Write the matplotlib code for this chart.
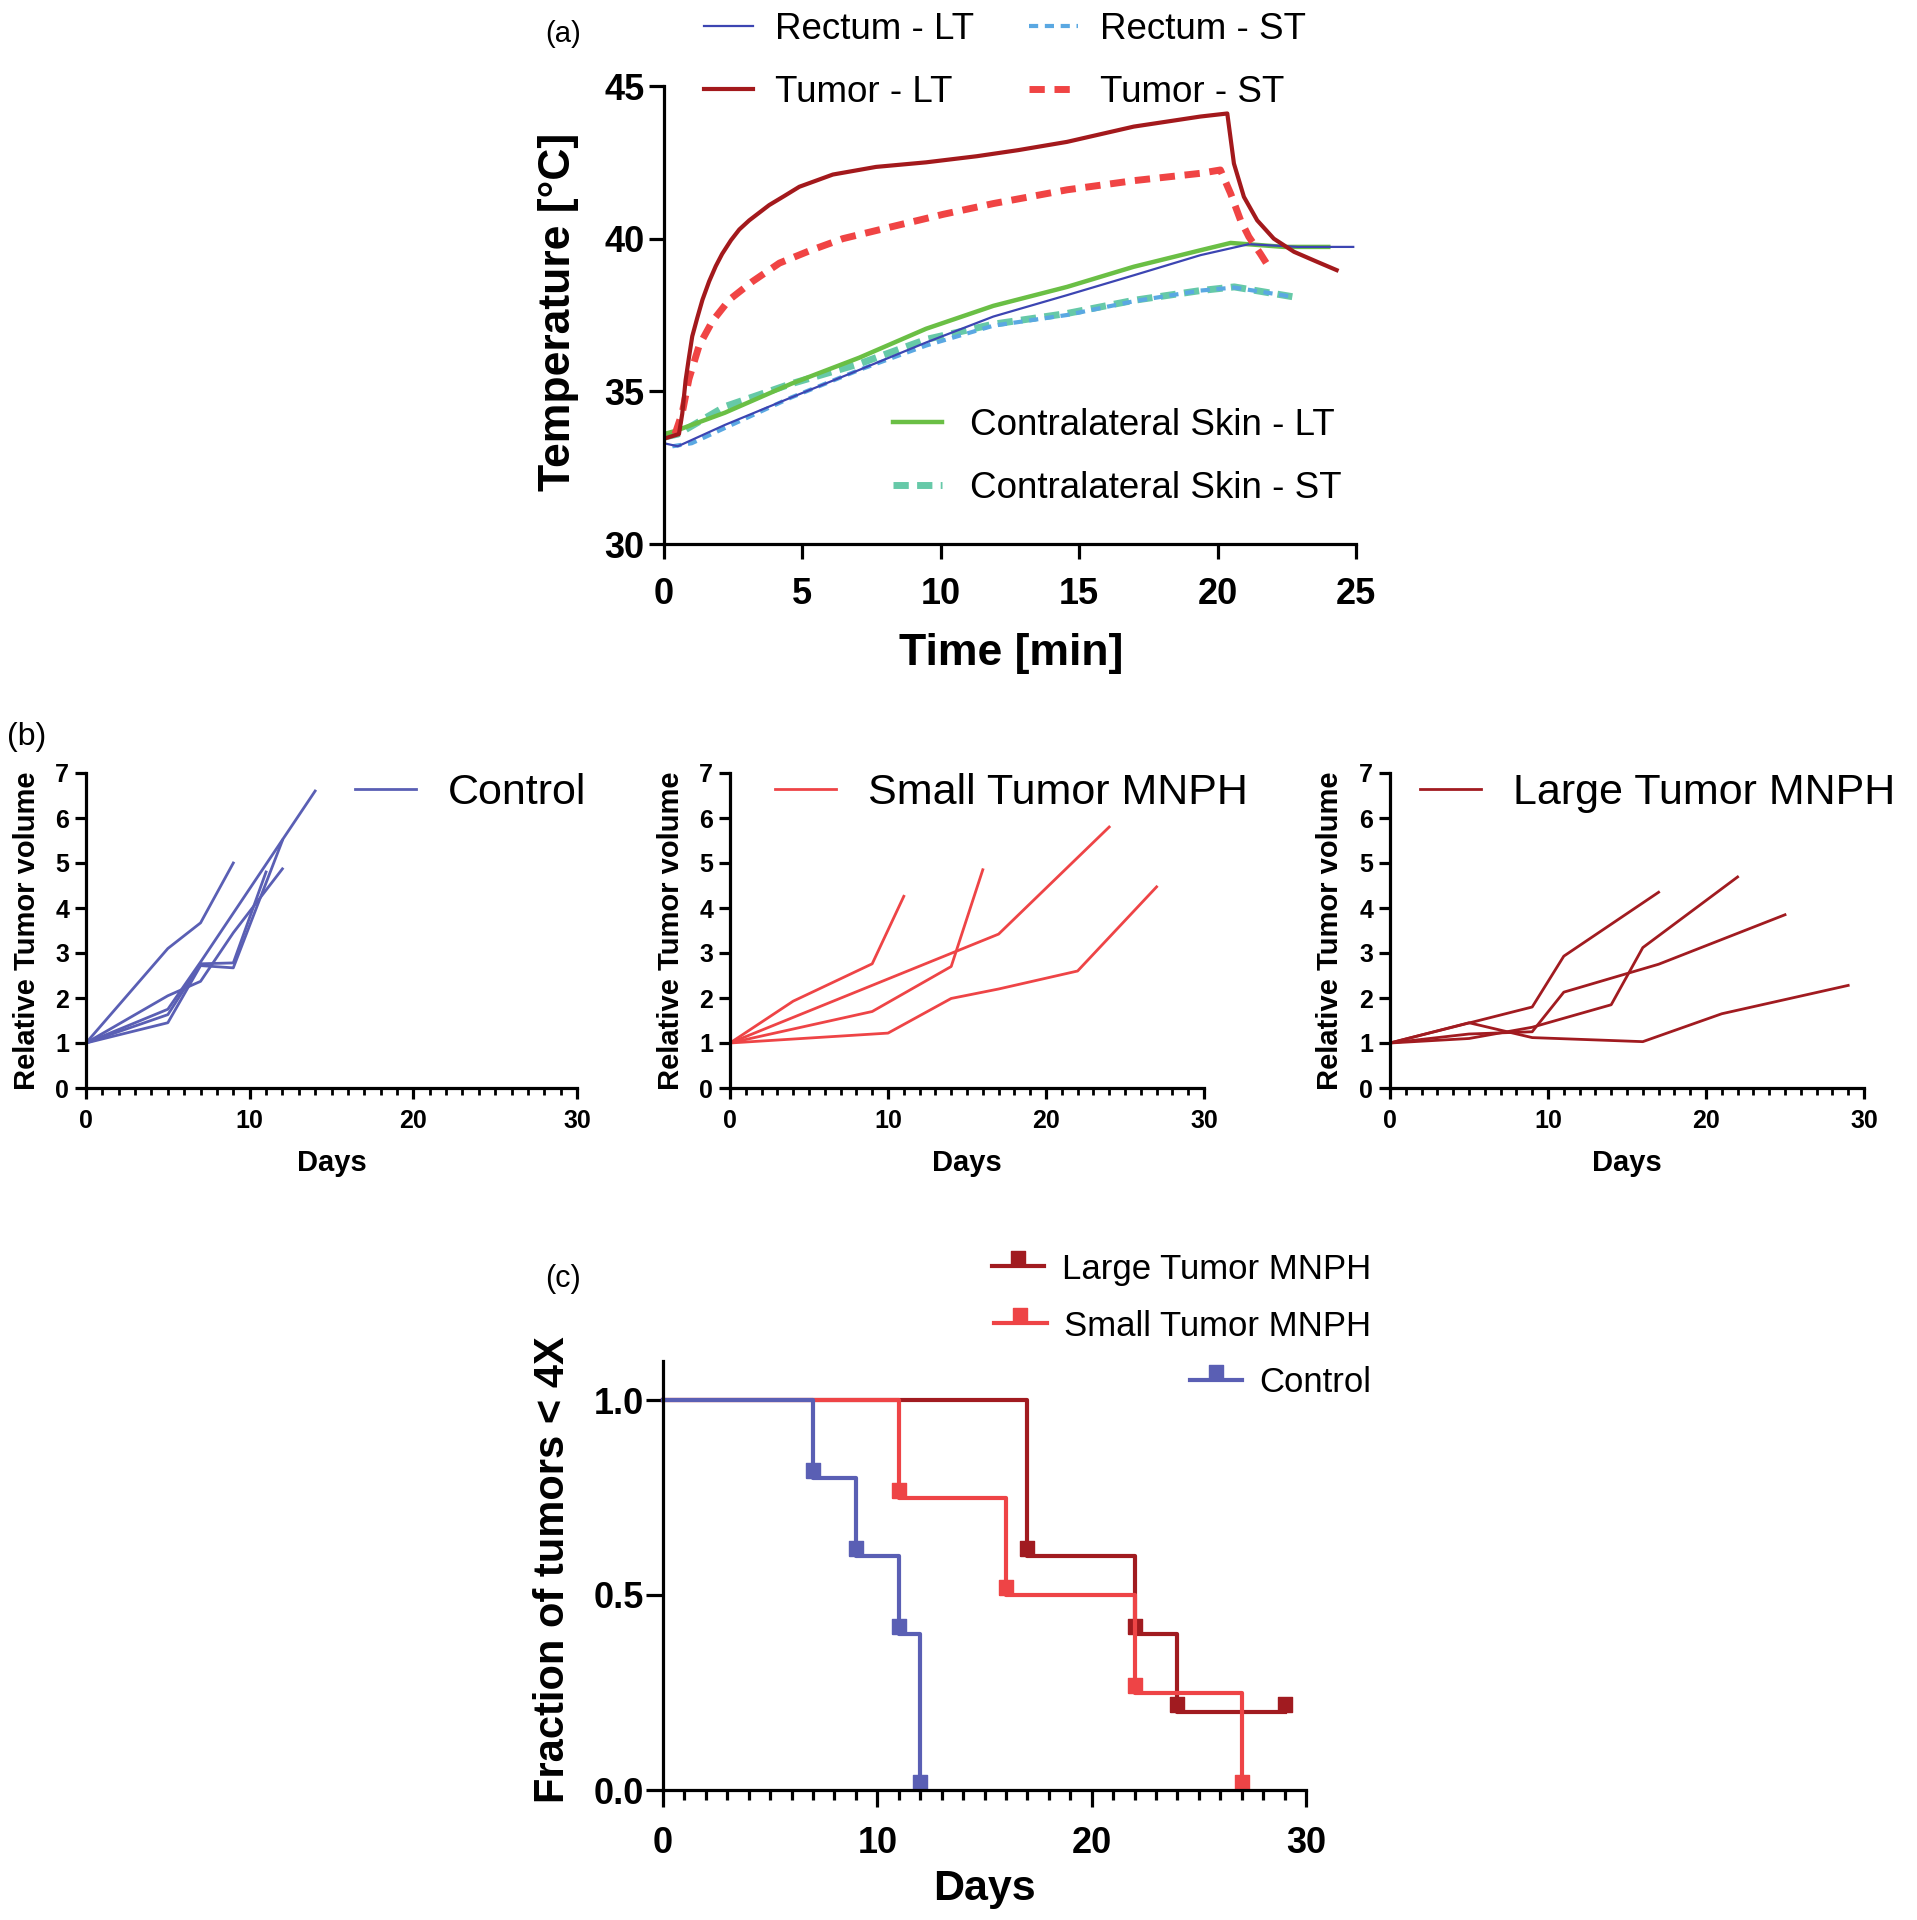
import matplotlib
matplotlib.use('Agg')
import matplotlib.pyplot as plt
from matplotlib.ticker import MultipleLocator, FormatStrFormatter

plt.rcParams['font.family'] = ['Liberation Sans', 'DejaVu Sans']

# ---------------- (a) temperature traces ----------------
tumor_lt_t = [0, 0.54, 0.66, 0.78, 0.9, 1.02, 1.2, 1.39, 1.63, 1.87, 2.1, 2.42, 2.72, 3.08, 3.44, 3.8,
              4.35, 4.89, 6.1, 7.66, 9.47, 11.3, 12.8, 14.56, 16.97, 19.38, 20.35, 20.59, 20.95,
              21.43, 22.03, 22.76, 23.6, 24.3]
tumor_lt_T = [33.45, 33.6, 34.27, 35.36, 36.1, 36.8, 37.4, 38.0, 38.6, 39.1, 39.5, 39.95, 40.3, 40.6,
              40.85, 41.1, 41.4, 41.7, 42.1, 42.35, 42.5, 42.7, 42.9, 43.17, 43.67, 44.0, 44.1, 42.46,
              41.37, 40.6, 40.0, 39.57, 39.24, 38.97]
tumor_st_t = [0.4, 0.66, 0.9, 1.27, 1.75, 2.36, 3.2, 4.17, 5.25, 6.46, 8.27, 10.1, 11.9, 14.56, 16.97,
              19.38, 20.1, 20.47, 20.83, 21.13, 21.55, 21.9]
tumor_st_T = [33.6, 34.3, 35.4, 36.5, 37.3, 38.0, 38.6, 39.2, 39.6, 40.0, 40.4, 40.8, 41.15, 41.6, 41.9,
              42.14, 42.25, 41.48, 40.6, 40.06, 39.5, 39.0]
contra_lt_t = [0, 0.4, 2.2, 4.6, 7.05, 9.47, 11.9, 14.56, 16.97, 19.38, 20.47, 22.4, 24.0]
contra_lt_T = [33.6, 33.7, 34.3, 35.25, 36.1, 37.05, 37.8, 38.42, 39.08, 39.62, 39.86, 39.73, 39.73]
rectum_lt_t = [0, 0.5, 2.2, 4.6, 7.05, 9.47, 11.9, 14.56, 16.97, 19.38, 21.13, 22.9, 24.9]
rectum_lt_T = [33.3, 33.2, 33.9, 34.8, 35.7, 36.6, 37.45, 38.15, 38.8, 39.46, 39.82, 39.73, 39.73]
contra_st_t = [0, 0.5, 2.2, 4.6, 7.05, 9.47, 11.9, 14.56, 16.97, 19.38, 20.6, 22.7]
contra_st_T = [33.5, 33.6, 34.5, 35.25, 35.9, 36.7, 37.2, 37.55, 37.98, 38.3, 38.42, 38.1]
rectum_st_t = [0.3, 1.0, 2.2, 4.6, 7.05, 9.47, 11.9, 14.56, 16.97, 19.38, 20.6, 22.7]
rectum_st_T = [33.2, 33.3, 33.8, 34.8, 35.7, 36.5, 37.15, 37.5, 37.95, 38.3, 38.4, 38.1]

# ---------------- (b) relative tumor volume ----------------
control_days = [[0, 5, 7, 9], [0, 5, 7, 14], [0, 5, 7, 9, 12], [0, 5, 7, 9, 11], [0, 5, 7, 9, 12]]
control_vol = [[1, 3.1, 3.67, 5.0], [1, 1.75, 2.8, 6.6], [1, 1.45, 2.72, 2.67, 5.5],
               [1, 1.63, 2.76, 2.78, 4.8], [1, 2.05, 2.37, 3.45, 4.87]]
small_days = [[0, 4, 9, 11], [0, 17, 24], [0, 9, 14, 16], [0, 10, 14, 17, 22, 27]]
small_vol = [[1, 1.93, 2.76, 4.26], [1, 3.42, 5.8], [1, 1.7, 2.7, 4.85], [1, 1.22, 1.99, 2.2, 2.6, 4.47]]
large_days = [[0, 9, 11, 17], [0, 5, 9, 14, 16, 22], [0, 5, 9, 11, 17, 25], [0, 5, 9, 16, 21, 29]]
large_vol = [[1, 1.8, 2.93, 4.35], [1, 1.1, 1.35, 1.85, 3.12, 4.69], [1, 1.2, 1.25, 2.13, 2.75, 3.85],
             [1, 1.45, 1.12, 1.03, 1.65, 2.28]]

# ---------------- (c) fraction of tumors < 4X ----------------
surv_control_t = [0, 7, 9, 11, 12]
surv_control_s = [1.0, 0.8, 0.6, 0.4, 0.0]
surv_small_t = [0, 11, 16, 22, 27]
surv_small_s = [1.0, 0.75, 0.5, 0.25, 0.0]
surv_large_t = [0, 17, 22, 24, 29]
surv_large_s = [1.0, 0.6, 0.4, 0.2, 0.2]

c_blue = '#5a5fb4'
c_red = '#ee4446'
c_dark = '#a11b20'

W, H = 1917, 1920
fig = plt.figure(figsize=(W / 100, H / 100), dpi=100, facecolor='w')


def add_ax(left, top, right, bottom):
    ax = fig.add_axes([left / W, 1 - bottom / H, (right - left) / W, (bottom - top) / H])
    ax.spines['top'].set_visible(False)
    ax.spines['right'].set_visible(False)
    ax.spines['left'].set_linewidth(2.3)
    ax.spines['bottom'].set_linewidth(2.3)
    return ax


def bold_ticks(ax):
    for lab in ax.get_xticklabels() + ax.get_yticklabels():
        lab.set_fontweight('bold')


############### (a) ###############
ax = add_ax(664, 86, 1356, 544)
ax.plot(contra_st_t, contra_st_T, color='#66c9a8', lw=5, ls=(0, (2.2, 1.2)))
ax.plot(rectum_st_t, rectum_st_T, color='#5aa8e2', lw=3, ls=(0, (2.2, 1.6)))
ax.plot(contra_lt_t, contra_lt_T, color='#6abf45', lw=3.2)
ax.plot(rectum_lt_t, rectum_lt_T, color='#3c45b2', lw=1.6)
ax.plot(tumor_st_t, tumor_st_T, color='#f04444', lw=5, ls=(0, (2.2, 1.4)))
ax.plot(tumor_lt_t, tumor_lt_T, color='#a3191c', lw=3)
lines = ax.get_lines()
ax.set_xlim(0, 25)
ax.set_ylim(30, 45)
ax.set_xticks([0, 5, 10, 15, 20, 25])
ax.set_yticks([30, 35, 40, 45])
ax.tick_params(axis='both', length=11, width=2.3, labelsize=26)
ax.tick_params(axis='x', pad=13)
ax.tick_params(axis='y', pad=3)
bold_ticks(ax)
ax.set_xlabel('Time [min]', fontsize=32, fontweight='bold', va='center')
ax.xaxis.set_label_coords(0.501, -0.238)
ax.set_ylabel('Temperature [°C]', fontsize=32, fontweight='bold', va='center')
ax.yaxis.set_label_coords(-0.152, 0.507)
fig.legend([lines[3], lines[5], lines[1], lines[4]],
           ['Rectum - LT', 'Tumor - LT', 'Rectum - ST', 'Tumor - ST'],
           ncol=2, loc='center', bbox_to_anchor=(1005 / W, 1 - 61 / H), frameon=False,
           fontsize=26.5, handlelength=1.33, handletextpad=0.6, columnspacing=1.5,
           labelspacing=0.75, borderpad=0)
fig.legend([lines[2], lines[0]], ['Contralateral Skin - LT', 'Contralateral Skin - ST'],
           loc='center right', bbox_to_anchor=(1342 / W, 1 - 457 / H), frameon=False,
           fontsize=26.5, handlelength=1.33, handletextpad=0.76, labelspacing=0.75, borderpad=0,
           borderaxespad=0)
fig.text(563 / W, 1 - 34 / H, '(a)', fontsize=21, ha='center', va='center')

############### (b) ###############
panels_b = [
    (86, 577, control_days, control_vol, c_blue, 'Control', 355, -0.120),
    (730, 1204, small_days, small_vol, c_red, 'Small Tumor MNPH', 775, -0.124),
    (1390, 1864, large_days, large_vol, c_dark, 'Large Tumor MNPH', 1420, -0.127),
]
for left, right, days, vols, col, name, legx, ylx in panels_b:
    ax = add_ax(left, 773, right, 1088)
    for d, v in zip(days, vols):
        ax.plot(d, v, color=col, lw=2)
    ax.set_xlim(0, 30)
    ax.set_ylim(0, 7)
    ax.set_xticks([0, 10, 20, 30])
    ax.xaxis.set_minor_locator(MultipleLocator(1))
    ax.set_yticks(range(0, 8))
    ax.tick_params(axis='both', which='major', length=8, width=2.3, labelsize=18)
    ax.tick_params(axis='x', which='minor', length=5, width=2)
    ax.tick_params(axis='x', which='major', pad=7)
    ax.tick_params(axis='y', which='major', pad=4)
    bold_ticks(ax)
    ax.set_xlabel('Days', fontsize=21, fontweight='bold', va='center')
    ax.xaxis.set_label_coords(0.5, -0.238)
    ax.set_ylabel('Relative Tumor volume', fontsize=21, fontweight='bold', va='center')
    ax.yaxis.set_label_coords(ylx, 0.5)
    fig.legend([ax.get_lines()[0]], [name], loc='center left',
               bbox_to_anchor=(legx / W, 1 - 793 / H), frameon=False, fontsize=31,
               handlelength=1.42, handletextpad=0.74, borderpad=0, borderaxespad=0)
fig.text(27 / W, 1 - 737 / H, '(b)', fontsize=23, ha='center', va='center')

############### (c) ###############
# square sitting on top of the line, like the GraphPad symbol
sq = [(-0.5, 0), (0.5, 0), (0.5, 1), (-0.5, 1), (-0.5, 0)]
ax = add_ax(663, 1361, 1306, 1790)
l_large, = ax.step(surv_large_t, surv_large_s, where='post', color=c_dark, lw=3,
                   marker=sq, ms=21, markevery=slice(1, None))
l_small, = ax.step(surv_small_t, surv_small_s, where='post', color=c_red, lw=3,
                   marker=sq, ms=21, markevery=slice(1, None))
l_ctrl, = ax.step(surv_control_t, surv_control_s, where='post', color=c_blue, lw=3,
                  marker=sq, ms=21, markevery=slice(1, None))
for l in (l_large, l_small, l_ctrl):
    l.set_clip_on(False)
ax.set_xlim(0, 30)
ax.set_ylim(0, 1.1)
ax.set_xticks([0, 10, 20, 30])
ax.xaxis.set_minor_locator(MultipleLocator(1))
ax.set_yticks([0, 0.5, 1.0])
ax.yaxis.set_major_formatter(FormatStrFormatter('%.1f'))
ax.tick_params(axis='both', which='major', length=12, width=2.3, labelsize=26)
ax.tick_params(axis='x', which='minor', length=7, width=2.3)
ax.tick_params(axis='x', which='major', pad=14)
ax.tick_params(axis='y', which='major', pad=2)
bold_ticks(ax)
ax.set_xlabel('Days', fontsize=31, fontweight='bold', va='center')
ax.xaxis.set_label_coords(0.5, -0.231)
ax.set_ylabel('Fraction of tumors < 4X', fontsize=30, fontweight='bold', va='center')
ax.yaxis.set_label_coords(-0.171, 0.513)
for h, name, yy in [(l_large, 'Large Tumor MNPH', 1269), (l_small, 'Small Tumor MNPH', 1326),
                    (l_ctrl, 'Control', 1383)]:
    fig.legend([h], [name], loc='center right', bbox_to_anchor=(1371 / W, 1 - yy / H),
               frameon=False, fontsize=25, handlelength=1.5, handletextpad=0.5,
               borderpad=0, borderaxespad=0, numpoints=1)
fig.text(563 / W, 1 - 1279 / H, '(c)', fontsize=22, ha='center', va='center')

fig.savefig('out.png', dpi=100, facecolor='w')
